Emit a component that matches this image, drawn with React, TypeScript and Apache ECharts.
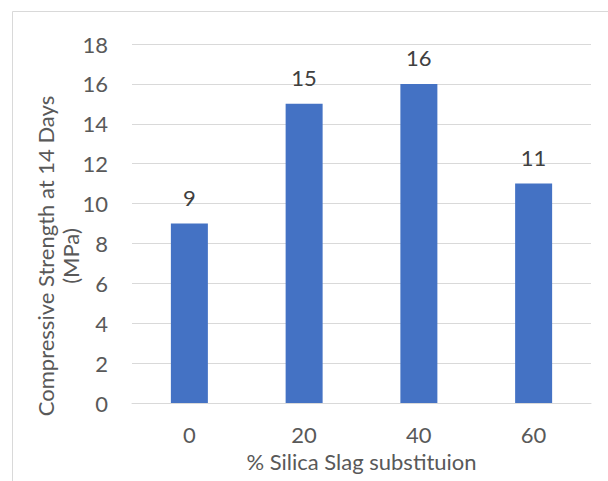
import React, { useEffect, useRef } from "react";
import * as echarts from "echarts";

const categories = ["0", "20", "40", "60"];
const strengthValues = [9, 15, 16, 11];
const yTicks = { min: 0, max: 18, interval: 2 };
const xTitle = "% Silica Slag substituion";
const yTitleLines = ["Compressive Strength at 14 Days", "(MPa)"];

const FONT = "Lato, 'Liberation Sans', sans-serif";
const TEXT = "#595959";
const GRID = "#d9d9d9";
const FS = 22;

export default function App() {
  const ref = useRef<HTMLDivElement>(null);

  useEffect(() => {
    if (!ref.current) return;
    const chart = echarts.init(ref.current, undefined, { renderer: "svg" });

    // vertical axis title, one rotated text per line, both centred on the same point
    const yTitleGraphics = yTitleLines.map((line, i) => ({
      type: "text",
      x: 45 + i * 25,
      y: 256,
      rotation: Math.PI / 2,
      silent: true,
      style: {
        text: line,
        fill: TEXT,
        fontSize: FS,
        fontFamily: FONT,
        align: "center",
        verticalAlign: "middle",
      },
    }));

    chart.setOption({
      animation: false,
      backgroundColor: "#ffffff",
      textStyle: { fontFamily: FONT },
      graphic: [
        {
          type: "rect",
          shape: { x: 12.5, y: 11.5, width: 620, height: 500 },
          style: { fill: "none", stroke: GRID, lineWidth: 1 },
          silent: true,
        },
        ...yTitleGraphics,
      ],
      grid: { left: 132, right: 17, top: 44, bottom: 78 },
      xAxis: {
        type: "category",
        data: categories,
        axisLine: { show: true, lineStyle: { color: GRID, width: 1 } },
        axisTick: { show: false },
        axisLabel: { color: TEXT, fontSize: FS, fontFamily: FONT, margin: 20 },
        name: xTitle,
        nameLocation: "middle",
        nameGap: 47,
        nameTextStyle: { color: TEXT, fontSize: FS, fontFamily: FONT, verticalAlign: "top" },
      },
      yAxis: {
        type: "value",
        min: yTicks.min,
        max: yTicks.max,
        interval: yTicks.interval,
        axisLine: { show: false },
        axisTick: { show: false },
        splitLine: { lineStyle: { color: GRID, width: 1 } },
        axisLabel: { color: TEXT, fontSize: FS, fontFamily: FONT, margin: 24 },
      },
      series: [
        {
          type: "bar",
          data: strengthValues,
          barWidth: 37,
          itemStyle: { color: "#4472C4" },
          label: {
            show: true,
            position: "top",
            distance: 15,
            color: "#404040",
            fontSize: FS,
            fontFamily: FONT,
          },
        },
      ],
    });
    return () => chart.dispose();
  }, []);

  return (
    <div
      ref={ref}
      style={{ position: "fixed", left: 0, top: 0, width: 608, height: 481 }}
    />
  );
}
